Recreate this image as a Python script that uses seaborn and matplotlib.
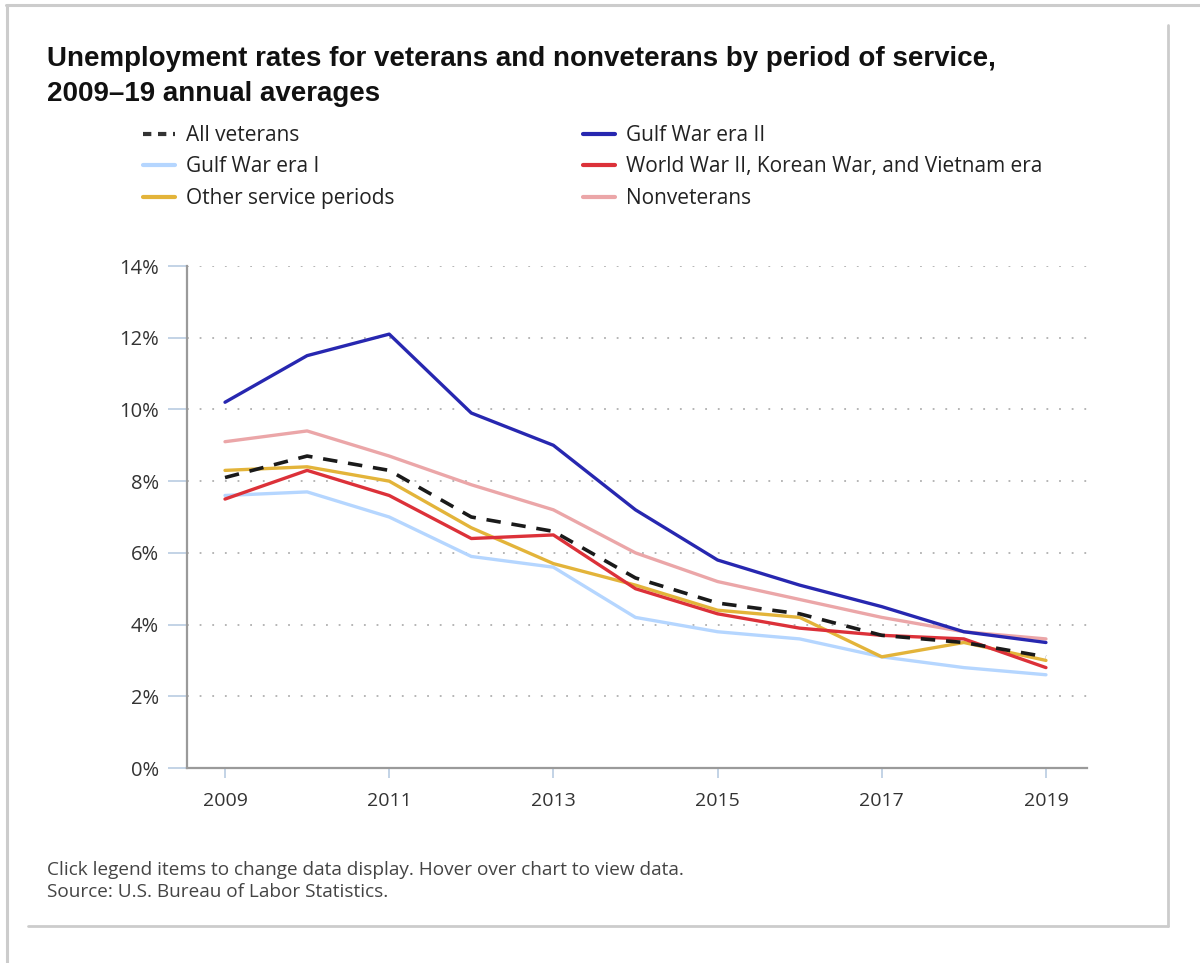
import matplotlib
matplotlib.use("Agg")
import matplotlib.pyplot as plt
import matplotlib.ticker as mticker
from matplotlib.lines import Line2D
import seaborn as sns
import pandas as pd

years = [2009, 2010, 2011, 2012, 2013, 2014, 2015, 2016, 2017, 2018, 2019]
all_veterans = [8.1, 8.7, 8.3, 7.0, 6.6, 5.3, 4.6, 4.3, 3.7, 3.5, 3.1]
gulf_war_ii = [10.2, 11.5, 12.1, 9.9, 9.0, 7.2, 5.8, 5.1, 4.5, 3.8, 3.5]
gulf_war_i = [7.6, 7.7, 7.0, 5.9, 5.6, 4.2, 3.8, 3.6, 3.1, 2.8, 2.6]
ww2_korea_vietnam = [7.5, 8.3, 7.6, 6.4, 6.5, 5.0, 4.3, 3.9, 3.7, 3.6, 2.8]
other_periods = [8.3, 8.4, 8.0, 6.7, 5.7, 5.1, 4.4, 4.2, 3.1, 3.5, 3.0]
nonveterans = [9.1, 9.4, 8.7, 7.9, 7.2, 6.0, 5.2, 4.7, 4.2, 3.8, 3.6]

series_names = ["All veterans", "Gulf War era II", "Gulf War era I",
                "World War II, Korean War, and Vietnam era",
                "Other service periods", "Nonveterans"]
series_values = [all_veterans, gulf_war_ii, gulf_war_i, ww2_korea_vietnam,
                 other_periods, nonveterans]
y_ticks = [0, 2, 4, 6, 8, 10, 12, 14]
x_ticks = [2009, 2011, 2013, 2015, 2017, 2019]

title = "Unemployment rates for veterans and nonveterans by period of service,\n2009\u201319 annual averages"
footer = "Click legend items to change data display. Hover over chart to view data.\nSource: U.S. Bureau of Labor Statistics."

colors = {
    "All veterans": "#1a1a1a",
    "Gulf War era II": "#2727b0",
    "Gulf War era I": "#b5d6ff",
    "World War II, Korean War, and Vietnam era": "#dc3139",
    "Other service periods": "#e3b43a",
    "Nonveterans": "#eba6a8",
}

df = pd.DataFrame(
    [(y, n, v) for n, vals in zip(series_names, series_values) for y, v in zip(years, vals)],
    columns=["year", "series", "rate"],
)

sns.set_style("white")
plt.rcParams["font.family"] = ["Open Sans", "DejaVu Sans"]

W, H = 1200, 963
fig = plt.figure(figsize=(W / 100, H / 100), dpi=100)
ax = fig.add_axes([187 / W, 1 - 768 / H, (1087 - 187) / W, (768 - 266) / H])

draw_order = ["Gulf War era I", "Nonveterans", "Other service periods",
              "World War II, Korean War, and Vietnam era", "Gulf War era II", "All veterans"]
for name in draw_order:
    sub = df[df["series"] == name]
    if name == "All veterans":
        sns.lineplot(data=sub, x="year", y="rate", ax=ax, color=colors[name],
                     lw=2.6, zorder=5, legend=False)
        ax.lines[-1].set_dashes((4, 3))
    else:
        sns.lineplot(data=sub, x="year", y="rate", ax=ax, color=colors[name],
                     lw=2.4, zorder=4, legend=False)

ax.set_xlim(2008.537, 2019.5)
ax.set_ylim(0, 14)
ax.set_yticks(y_ticks)
ax.set_xticks(x_ticks)
ax.yaxis.set_major_formatter(mticker.FuncFormatter(lambda v, p: f"{v:.0f}%"))
ax.set_xlabel("")
ax.set_ylabel("")
for v in y_ticks[1:]:
    ax.axhline(v, color="#b0b0b0", lw=1.3, ls=(0, (1, 6)), zorder=1)

for s in ["top", "right"]:
    ax.spines[s].set_visible(False)
for s in ["left", "bottom"]:
    ax.spines[s].set_color("#9a9a9a")
    ax.spines[s].set_linewidth(1.6)

ax.tick_params(axis="y", length=14, width=1.4, color="#c3d3e6", labelsize=14.5,
               labelcolor="#333333", pad=6, left=True)
ax.tick_params(axis="x", length=7, width=1.4, color="#c3d3e6", labelsize=14,
               labelcolor="#333333", pad=10, bottom=True)

fig.text(47 / W, 1 - 46 / H, title, ha="left", va="top", fontsize=20,
         fontweight="bold", family=["Liberation Sans", "DejaVu Sans"],
         color="#111111", linespacing=1.45)

left_names = ["All veterans", "Gulf War era I", "Other service periods"]
right_names = ["Gulf War era II", "World War II, Korean War, and Vietnam era", "Nonveterans"]

def handle(name):
    if name == "All veterans":
        return Line2D([], [], color="#333333", lw=3, dashes=(2.0, 1.6))
    return Line2D([], [], color=colors[name], lw=3)

for names, xpos in [(left_names, 143), (right_names, 583)]:
    leg = fig.legend([handle(n) for n in names], names, loc="upper left",
                     bbox_to_anchor=(xpos / W, 1 - 125 / H), frameon=False,
                     fontsize=15, handlelength=1.55, handletextpad=0.5,
                     labelspacing=0.5, borderaxespad=0, borderpad=0)
    for t in leg.get_texts():
        t.set_color("#222222")

fig.text(47 / W, 1 - 861 / H, footer, ha="left", va="top", fontsize=13.7,
         color="#444444", linespacing=1.3)

border = "#cccccc"
fig.add_artist(Line2D([6 / W, 1], [1 - 5 / H, 1 - 5 / H], color=border, lw=2.2))
fig.add_artist(Line2D([7 / W, 7 / W], [1 - 5 / H, 0], color=border, lw=2.2))
fig.add_artist(Line2D([1168 / W, 1168 / W], [1 - 25 / H, 1 - 926 / H], color=border, lw=2))
fig.add_artist(Line2D([28 / W, 1168 / W], [1 - 926 / H, 1 - 926 / H], color=border, lw=2))

fig.savefig("out.png", dpi=100)
